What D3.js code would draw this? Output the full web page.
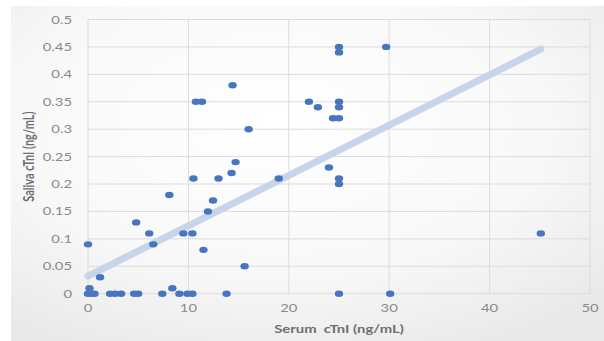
<!DOCTYPE html>
<html>
<head>
<meta charset="utf-8">
<script src="https://cdn.jsdelivr.net/npm/d3@7"></script>
<style>
  body { margin: 0; background: #fff; }
  svg { display: block; font-family: Lato, "Open Sans", sans-serif; }
</style>
</head>
<body>
<svg id="chart" width="604" height="341"></svg>
<script>
// serum cTnI (ng/mL) and saliva cTnI (ng/mL)
const serum = [0, 0.35, 0.65, 0.15, 0, 2.2, 2.7, 3.3, 1.2, 4.6, 5.0, 4.8, 6.1, 6.5, 7.4,
  8.1, 8.4, 9.1, 9.5, 9.9, 10.4, 10.4, 10.5, 10.75, 11.35, 11.5, 11.95, 12.45, 13,
  13.8, 14.3, 14.4, 14.7, 15.6, 16, 19, 22, 22.9, 24, 24.4, 25, 25, 25, 25, 25, 25,
  25, 25, 29.7, 30.1, 45.1];
const saliva = [0, 0, 0, 0.01, 0.09, 0, 0, 0, 0.03, 0, 0, 0.13, 0.11, 0.09, 0,
  0.18, 0.01, 0, 0.11, 0, 0, 0.11, 0.21, 0.35, 0.35, 0.08, 0.15, 0.17, 0.21,
  0, 0.22, 0.38, 0.24, 0.05, 0.30, 0.21, 0.35, 0.34, 0.23, 0.32, 0.32, 0.35, 0.34,
  0.45, 0.44, 0.21, 0.20, 0, 0.45, 0, 0.11];
const xTicks = [0, 10, 20, 30, 40, 50];
const yTicks = [0, 0.05, 0.1, 0.15, 0.2, 0.25, 0.3, 0.35, 0.4, 0.45, 0.5];
// linear trendline as shown (intercept, slope), spans the data range
const trendIntercept = 0.032;
const trendSlope = 0.00918;

const sx = 1.35; // the picture is stretched sideways
const svg = d3.select('#chart');

const defs = svg.append('defs');
const grad = defs.append('radialGradient')
  .attr('id', 'bg').attr('cx', '45%').attr('cy', '35%').attr('r', '75%');
grad.append('stop').attr('offset', '0%').attr('stop-color', '#ffffff');
grad.append('stop').attr('offset', '60%').attr('stop-color', '#f8f8f8');
grad.append('stop').attr('offset', '100%').attr('stop-color', '#e9e9e9');

svg.append('rect')
  .attr('x', 11).attr('y', 6).attr('width', 593).attr('height', 335)
  .attr('fill', 'url(#bg)');

const x = d3.scaleLinear().domain([0, 50]).range([88, 590]);
const y = d3.scaleLinear().domain([0, 0.5]).range([293.7, 19.5]);

// grid
svg.append('g')
  .selectAll('line')
  .data(yTicks)
  .join('line')
  .attr('x1', x(0)).attr('x2', x(50))
  .attr('y1', d => y(d)).attr('y2', d => y(d))
  .attr('stroke', '#dcdcdc').attr('stroke-width', 1);

svg.append('g')
  .selectAll('line')
  .data(xTicks)
  .join('line')
  .attr('x1', d => x(d)).attr('x2', d => x(d))
  .attr('y1', y(0)).attr('y2', y(0.5))
  .attr('stroke', '#dcdcdc').attr('stroke-width', 1);

// tick labels
svg.append('g')
  .selectAll('text')
  .data(yTicks)
  .join('text')
  .attr('transform', d => `translate(72,${y(d) + 4}) scale(${sx},1)`)
  .attr('text-anchor', 'end')
  .attr('font-size', 11)
  .attr('fill', '#8a8a8a')
  .text(d => d3.format('')(d));

svg.append('g')
  .selectAll('text')
  .data(xTicks)
  .join('text')
  .attr('transform', d => `translate(${x(d)},312) scale(${sx},1)`)
  .attr('text-anchor', 'middle')
  .attr('font-size', 11)
  .attr('fill', '#8a8a8a')
  .text(d => d);

// trendline
svg.append('line')
  .attr('x1', x(0)).attr('y1', y(trendIntercept))
  .attr('x2', x(d3.max(serum))).attr('y2', y(trendIntercept + trendSlope * d3.max(serum)))
  .attr('stroke', '#c6d5ea')
  .attr('stroke-width', 7)
  .attr('stroke-linecap', 'round');

// points
svg.append('g')
  .attr('fill', '#4876be')
  .selectAll('ellipse')
  .data(d3.range(serum.length))
  .join('ellipse')
  .attr('cx', i => x(serum[i]))
  .attr('cy', i => y(saliva[i]))
  .attr('rx', 4.2)
  .attr('ry', 3.2);

// axis titles
svg.append('text')
  .attr('transform', `translate(${(x(0) + x(50)) / 2},333) scale(${sx},1)`)
  .attr('text-anchor', 'middle')
  .attr('font-size', 11)
  .attr('font-weight', 'bold')
  .attr('fill', '#6e6e6e')
  .attr('xml:space', 'preserve')
  .style('white-space', 'pre')
  .text('Serum  cTnI (ng/mL)');

svg.append('text')
  .attr('transform', `translate(34,${(y(0) + y(0.5)) / 2}) scale(${sx},1) rotate(-90)`)
  .attr('text-anchor', 'middle')
  .attr('font-size', 11)
  .attr('font-weight', 'bold')
  .attr('fill', '#6e6e6e')
  .text('Saliva cTnI (ng/mL)');
</script>
</body>
</html>
